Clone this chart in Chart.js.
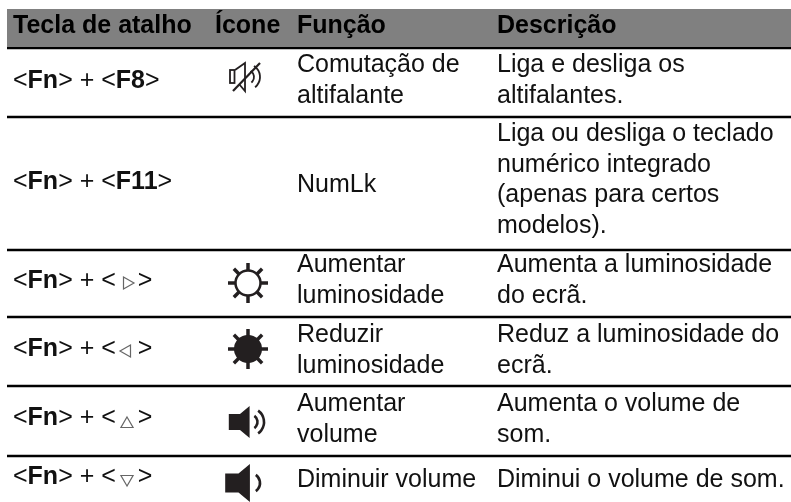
<!DOCTYPE html>
<html>
<head>
<meta charset="utf-8">
<style>
  html, body { margin: 0; padding: 0; background: #fff; }
  #chart { display: block; }
</style>
<script src="https://cdn.jsdelivr.net/npm/chart.js@4"></script>
</head>
<body>
<canvas id="chart" width="791" height="502"></canvas>
<script>
// table content
const headers = ['Tecla de atalho', 'Ícone', 'Função', 'Descrição'];
const keys = ['F8', 'F11', 'right', 'left', 'up', 'down'];
const icons = ['mute', null, 'sunOpen', 'sunFull', 'volUp', 'volDown'];
const functions = [
    ['Comutação de', 'altifalante'],
    ['NumLk'],
    ['Aumentar', 'luminosidade'],
    ['Reduzir', 'luminosidade'],
    ['Aumentar', 'volume'],
    ['Diminuir volume']
];
const descriptions = [
    ['Liga e desliga os', 'altifalantes.'],
    ['Liga ou desliga o teclado', 'numérico integrado', '(apenas para certos', 'modelos).'],
    ['Aumenta a luminosidade', 'do ecrã.'],
    ['Reduz a luminosidade do', 'ecrã.'],
    ['Aumenta o volume de', 'som.'],
    ['Diminui o volume de som.']
];

// table layout, in axis units
const headerX = [13, 215, 297, 497];
const ruleY = [48, 117, 250, 317, 386, 456];
const keyBaseY = [88, 189, 288, 356, 425, 484];
const functionBaseY = [72, 192, 272, 342, 411, 487];
const descriptionBaseY = [72, 141, 272, 342, 411, 487];
const iconCenterY = [77, 0, 283, 349, 422, 483];
const iconX = 248;
const lineStep = 30.7;
const tableLeft = 7;
const tableRight = 791;
const headerTop = 9;
const headerBottom = 47;
const headerBaseY = 33;
const arrowX = 127;
const arrowY = [283, 351, 424, 479];

const bodyFont = '25px "Liberation Sans"';
const boldFont = 'bold 25px "Liberation Sans"';

// triangle rotation for the arrow keys
const arrowRotation = { right: 90, left: -90, up: 0, down: 180 };

function drawKeyCell(ctx, x, y, key) {
    const runs = [['<', false], ['Fn', true], ['> + <', false]];
    if (arrowRotation[key] === undefined) {
        runs.push([key, true]);
    }
    let cx = x;
    runs.forEach(run => {
        ctx.font = run[1] ? boldFont : bodyFont;
        ctx.fillText(run[0], cx, y);
        cx += ctx.measureText(run[0]).width;
    });
    if (arrowRotation[key] !== undefined) {
        cx += 22;
    }
    ctx.font = bodyFont;
    ctx.fillText('>', cx, y);
}

function drawSun(ctx, x, y, filled) {
    ctx.strokeStyle = '#231f20';
    ctx.fillStyle = '#231f20';
    ctx.lineWidth = 3.5;
    for (let i = 0; i < 8; i++) {
        const a = i * Math.PI / 4;
        ctx.beginPath();
        ctx.moveTo(x + Math.sin(a) * 11, y - Math.cos(a) * 11);
        ctx.lineTo(x + Math.sin(a) * 20, y - Math.cos(a) * 20);
        ctx.stroke();
    }
    ctx.beginPath();
    ctx.arc(x, y, filled ? 14 : 12.5, 0, Math.PI * 2);
    if (filled) {
        ctx.fill();
    } else {
        ctx.lineWidth = 2.5;
        ctx.fillStyle = '#fff';
        ctx.fill();
        ctx.stroke();
    }
}

function drawSpeaker(ctx, x, y, size, arcs) {
    ctx.fillStyle = '#231f20';
    ctx.strokeStyle = '#231f20';
    ctx.beginPath();
    ctx.moveTo(x - size * 1.2, y - size * 0.5);
    ctx.lineTo(x - size * 0.5, y - size * 0.5);
    ctx.lineTo(x + size * 0.1, y - size);
    ctx.lineTo(x + size * 0.1, y + size);
    ctx.lineTo(x - size * 0.5, y + size * 0.5);
    ctx.lineTo(x - size * 1.2, y + size * 0.5);
    ctx.closePath();
    ctx.fill();
    ctx.lineWidth = 2.6;
    arcs.forEach(r => {
        ctx.beginPath();
        ctx.arc(x + 2, y, r, -0.95, 0.95);
        ctx.stroke();
    });
}

function drawMute(ctx, x, y) {
    ctx.strokeStyle = '#231f20';
    ctx.lineWidth = 1.8;
    ctx.strokeRect(x - 18, y - 7, 4.5, 13);
    ctx.beginPath();
    ctx.moveTo(x - 13, y - 7);
    ctx.lineTo(x - 3, y - 14);
    ctx.lineTo(x - 3, y + 14);
    ctx.lineTo(x - 9, y + 7);
    ctx.moveTo(x + 4, y - 6);
    ctx.arc(x - 1, y, 7, -0.9, 0.9);
    ctx.moveTo(x + 6, y - 11);
    ctx.arc(x - 1, y, 13, -0.9, 0.9);
    ctx.stroke();
    ctx.lineWidth = 2.2;
    ctx.beginPath();
    ctx.moveTo(x - 15, y + 14);
    ctx.lineTo(x + 12, y - 14);
    ctx.stroke();
}

// Draws all the cell text and the icons through the scales
const tableText = {
    id: 'tableText',
    afterDatasetsDraw(chart) {
        const ctx = chart.ctx;
        const sx = chart.scales.x;
        const sy = chart.scales.y;
        ctx.save();
        ctx.textAlign = 'left';
        ctx.textBaseline = 'alphabetic';
        ctx.font = boldFont;
        ctx.fillStyle = '#000';
        headers.forEach((h, i) => {
            ctx.fillText(h, sx.getPixelForValue(headerX[i]), sy.getPixelForValue(headerBaseY));
        });
        ctx.fillStyle = '#111';
        keys.forEach((k, row) => {
            drawKeyCell(ctx, sx.getPixelForValue(headerX[0]), sy.getPixelForValue(keyBaseY[row]), k);
        });
        ctx.font = bodyFont;
        functions.forEach((lines, row) => {
            lines.forEach((t, i) => ctx.fillText(t, sx.getPixelForValue(headerX[2]), sy.getPixelForValue(functionBaseY[row] + i * lineStep)));
        });
        descriptions.forEach((lines, row) => {
            lines.forEach((t, i) => ctx.fillText(t, sx.getPixelForValue(headerX[3]), sy.getPixelForValue(descriptionBaseY[row] + i * lineStep)));
        });
        icons.forEach((icon, row) => {
            const x = sx.getPixelForValue(iconX);
            const y = sy.getPixelForValue(iconCenterY[row]);
            if (icon == 'mute') drawMute(ctx, x, y);
            else if (icon == 'sunOpen') drawSun(ctx, x, y, false);
            else if (icon == 'sunFull') drawSun(ctx, x, y, true);
            else if (icon == 'volUp') drawSpeaker(ctx, x, y, 16, [7.5, 14]);
            else if (icon == 'volDown') drawSpeaker(ctx, x, y, 19, [10]);
        });
        ctx.restore();
    }
};

new Chart(document.getElementById('chart').getContext('2d'), {
    type: 'scatter',
    data: {
        datasets: [
            {
                // header band
                type: 'line',
                data: [{ x: tableLeft, y: headerTop }, { x: tableRight, y: headerTop }],
                borderWidth: 0,
                pointRadius: 0,
                backgroundColor: '#808080',
                fill: { value: headerBottom }
            },
            ...ruleY.map(y => ({
                type: 'line',
                data: [{ x: tableLeft, y: y }, { x: tableRight, y: y }],
                borderColor: '#000',
                borderWidth: 2.5,
                pointRadius: 0
            })),
            {
                // small arrow key triangles
                data: arrowY.map(y => ({ x: arrowX, y: y })),
                pointStyle: 'triangle',
                pointRadius: 7,
                pointBackgroundColor: '#fff',
                pointBorderColor: '#666',
                pointBorderWidth: 1.2,
                rotation: keys.filter(k => arrowRotation[k] !== undefined).map(k => arrowRotation[k])
            }
        ]
    },
    options: {
        responsive: false,
        animation: false,
        layout: { padding: 0, autoPadding: false },
        plugins: { legend: { display: false }, tooltip: { enabled: false } },
        scales: {
            x: { type: 'linear', display: false, min: 0, max: 791 },
            y: { type: 'linear', display: false, min: 0, max: 502, reverse: true }
        }
    },
    plugins: [tableText]
});
</script>
</body>
</html>
